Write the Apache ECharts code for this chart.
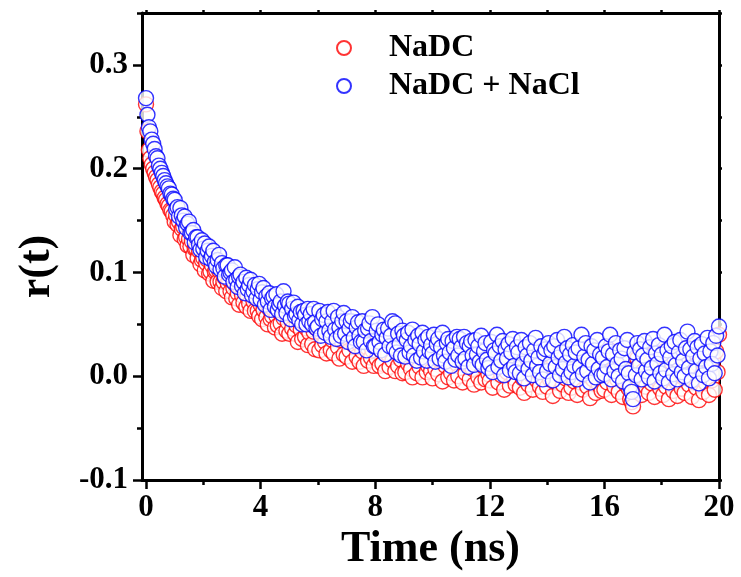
<!DOCTYPE html>
<html>
<head>
<meta charset="utf-8">
<script src="https://cdn.jsdelivr.net/npm/echarts@6/dist/echarts.min.js"></script>
<style>html,body{margin:0;padding:0;background:#fff;}#chart{width:741px;height:577px;}</style>
</head>
<body>
<div id="chart"></div>
<script>
// Sampling grid of the measurement (ns)
const TIME_STEP = 0.05;
const SERIES_NAMES = ['NaDC', 'NaDC + NaCl'];
// r(t) values for NaDC, one line per ns (20 samples each), last value at t = 20 ns
const NADC = [
0.262,0.236,0.218,0.210,0.204,0.200,0.196,0.192,0.189,0.185,0.182,0.178,0.176,0.172,0.170,0.166,0.164,0.160,0.159,0.155,
0.149,0.155,0.146,0.149,0.136,0.142,0.144,0.132,0.134,0.126,0.132,0.125,0.130,0.117,0.123,0.123,0.114,0.121,0.108,0.112,
0.114,0.102,0.109,0.112,0.099,0.101,0.107,0.092,0.101,0.102,0.091,0.102,0.091,0.085,0.091,0.095,0.082,0.090,0.093,0.082,
0.076,0.085,0.089,0.075,0.080,0.069,0.083,0.078,0.071,0.083,0.067,0.076,0.070,0.063,0.077,0.072,0.063,0.077,0.063,0.058,
0.069,0.055,0.064,0.070,0.057,0.050,0.065,0.055,0.058,0.064,0.047,0.058,0.049,0.062,0.051,0.041,0.056,0.061,0.044,0.052,
0.041,0.055,0.046,0.058,0.041,0.049,0.033,0.052,0.045,0.036,0.052,0.038,0.046,0.030,0.042,0.049,0.031,0.043,0.026,0.046,
0.047,0.025,0.042,0.030,0.049,0.033,0.022,0.041,0.045,0.025,0.035,0.022,0.040,0.046,0.028,0.017,0.035,0.041,0.021,0.036,
0.019,0.037,0.025,0.043,0.014,0.030,0.038,0.019,0.032,0.014,0.038,0.024,0.010,0.034,0.028,0.015,0.039,0.018,0.025,0.010,
0.033,0.017,0.037,0.010,0.025,0.012,0.034,0.005,0.026,0.021,0.009,0.028,0.015,0.033,0.005,0.024,0.010,0.030,0.016,0.003,
0.023,0.004,0.028,0.012,0.032,0.007,-0.001,0.023,0.017,0.003,0.029,0.009,0.023,-0.001,0.018,0.026,0.004,0.010,0.030,0.005,
-0.002,0.021,0.007,0.027,0.002,0.015,0.024,-0.005,0.018,0.010,0.029,-0.001,0.015,0.003,0.024,-0.004,0.018,0.012,0.000,0.021,
0.015,-0.006,0.022,0.003,0.012,0.027,-0.003,0.018,0.007,-0.008,0.019,0.012,-0.001,0.023,-0.006,0.014,0.009,-0.003,0.021,0.002,
-0.004,0.020,-0.011,0.013,0.009,0.026,-0.006,0.015,0.001,0.022,-0.013,0.012,0.004,0.019,-0.009,0.007,0.024,-0.002,-0.008,0.017,
0.012,-0.011,0.021,-0.002,-0.016,0.014,0.006,-0.008,0.018,0.001,-0.013,0.013,0.023,-0.004,0.004,-0.010,0.015,-0.015,0.009,0.011,
-0.010,0.017,-0.003,0.010,-0.019,0.014,-0.006,0.020,0.003,-0.014,0.008,-0.008,0.023,-0.002,0.012,-0.016,0.006,-0.011,0.015,-0.005,
0.008,-0.018,0.012,-0.006,0.025,-0.013,0.004,0.017,-0.010,0.001,-0.021,0.014,-0.003,0.010,-0.016,0.020,-0.008,0.006,-0.014,0.003,
-0.013,0.014,-0.006,0.009,0.025,-0.018,0.006,-0.010,0.017,-0.003,-0.015,0.010,0.002,-0.020,0.012,-0.008,0.020,-0.012,-0.022,-0.025,
-0.029,0.007,-0.014,0.017,-0.005,0.011,-0.018,0.005,0.019,-0.010,0.001,-0.016,0.013,-0.007,0.021,-0.020,0.007,-0.003,0.015,-0.012,
0.005,-0.018,0.024,-0.010,0.009,-0.022,0.002,0.013,-0.014,0.017,-0.005,-0.019,0.007,0.019,-0.012,-0.001,-0.016,0.011,0.027,-0.008,
0.010,-0.020,0.003,0.018,-0.011,0.012,-0.023,0.001,0.015,-0.015,0.006,-0.007,0.021,-0.018,0.008,-0.004,0.016,-0.013,0.024,0.004,
0.040
];
// r(t) values for NaDC + NaCl
const NADC_NACL = [
0.268,0.252,0.240,0.236,0.228,0.224,0.219,0.212,0.210,0.203,0.200,0.196,0.193,0.189,0.186,0.183,0.181,0.176,0.175,0.171,
0.170,0.161,0.163,0.154,0.162,0.155,0.150,0.154,0.143,0.147,0.149,0.138,0.138,0.141,0.129,0.134,0.134,0.127,0.122,0.131,
0.123,0.128,0.115,0.121,0.125,0.113,0.116,0.121,0.110,0.106,0.112,0.117,0.103,0.109,0.104,0.096,0.107,0.107,0.098,0.100,
0.102,0.091,0.105,0.093,0.086,0.096,0.098,0.087,0.091,0.080,0.095,0.084,0.088,0.093,0.078,0.082,0.088,0.075,0.084,0.089,
0.074,0.081,0.085,0.069,0.077,0.072,0.080,0.064,0.075,0.077,0.067,0.079,0.064,0.069,0.072,0.060,0.082,0.068,0.061,0.072,
0.070,0.055,0.065,0.071,0.058,0.060,0.067,0.054,0.062,0.050,0.063,0.059,0.050,0.065,0.053,0.060,0.050,0.065,0.052,0.046,
0.048,0.063,0.039,0.055,0.059,0.042,0.053,0.062,0.044,0.038,0.053,0.063,0.045,0.036,0.057,0.047,0.039,0.053,0.061,0.041,
0.053,0.033,0.046,0.053,0.057,0.037,0.029,0.047,0.052,0.039,0.033,0.053,0.033,0.044,0.025,0.046,0.051,0.034,0.057,0.029,
0.029,0.044,0.050,0.033,0.025,0.040,0.045,0.021,0.037,0.046,0.029,0.039,0.053,0.027,0.051,0.023,0.041,0.031,0.020,0.044,
0.039,0.019,0.035,0.042,0.023,0.029,0.045,0.020,0.035,0.015,0.039,0.031,0.018,0.042,0.024,0.035,0.015,0.038,0.024,0.030,
0.022,0.040,0.014,0.031,0.036,0.017,0.028,0.042,0.020,0.014,0.032,0.036,0.023,0.010,0.034,0.027,0.016,0.038,0.020,0.036,
0.028,0.014,0.038,0.017,0.032,0.009,0.029,0.034,0.020,0.011,0.035,0.021,0.029,0.014,0.039,0.011,0.024,0.032,0.016,0.008,
0.012,0.033,0.004,0.025,0.022,0.040,0.009,0.029,0.015,0.034,0.001,0.026,0.017,0.031,0.006,0.023,0.036,0.010,0.004,0.028,
0.023,0.003,0.035,0.012,-0.002,0.028,0.020,0.007,0.032,0.015,0.001,0.025,0.037,0.010,0.018,0.004,0.029,-0.003,0.022,0.026,
0.005,0.032,0.012,0.025,-0.004,0.029,0.009,0.035,0.018,0.001,0.023,0.007,0.038,0.013,0.027,-0.001,0.021,0.004,0.030,0.010,
0.023,-0.003,0.027,0.009,0.040,0.002,0.019,0.032,0.005,0.016,-0.006,0.029,0.012,0.025,-0.001,0.035,0.007,0.021,0.001,0.018,
0.002,0.029,0.009,0.024,0.040,-0.003,0.021,0.005,0.032,0.012,0.000,0.025,0.017,-0.005,0.027,0.007,0.035,0.003,-0.010,-0.015,
-0.022,0.023,0.001,0.032,0.010,0.026,-0.003,0.020,0.034,0.005,0.016,-0.001,0.028,0.008,0.036,-0.005,0.022,0.012,0.030,0.003,
0.021,-0.002,0.040,0.006,0.025,-0.006,0.018,0.029,0.002,0.033,0.011,-0.003,0.023,0.035,0.004,0.015,0.000,0.027,0.043,0.008,
0.026,-0.004,0.019,0.034,0.005,0.028,-0.007,0.017,0.031,0.001,0.022,0.009,0.037,-0.002,0.024,0.012,0.032,0.003,0.039,0.020,
0.048
];
const X_MAJOR = [0, 4, 8, 12, 16, 20];
const X_MINOR = [2, 6, 10, 14, 18];
const Y_MAJOR = [-0.1, 0.0, 0.1, 0.2, 0.3];
const Y_MINOR = [-0.05, 0.05, 0.15, 0.25, 0.35];
const X_MIN = -0.14, X_MAX = 20;
const Y_MIN = -0.1, Y_MAX = 0.35;

const FONT = '"Liberation Serif", "Times New Roman", serif';
const toPairs = vals => vals.map((v, i) => [+(i * TIME_STEP).toFixed(2), v]);

const axisLineStyle = { color: '#000', width: 3 };
function xAx(pos, ticks, len, showLine, labels) {
  return {
    type: 'value', min: X_MIN, max: X_MAX, position: pos,
    axisLine: { show: showLine, onZero: false, lineStyle: axisLineStyle },
    axisTick: { show: true, customValues: ticks, length: len, inside: false, lineStyle: { color: '#000', width: 2.5 } },
    axisLabel: labels ? {
      show: true, customValues: ticks, margin: 12, color: '#000',
      fontFamily: FONT, fontWeight: 'bold', fontSize: 31,
      formatter: v => String(Math.round(v))
    } : { show: false },
    splitLine: { show: false }
  };
}
function yAx(pos, ticks, len, showLine, labels) {
  return {
    type: 'value', min: Y_MIN, max: Y_MAX, position: pos,
    axisLine: { show: showLine, onZero: false, lineStyle: axisLineStyle },
    axisTick: { show: true, customValues: ticks, length: len, inside: false, lineStyle: { color: '#000', width: 2.5 } },
    axisLabel: labels ? {
      show: true, customValues: ticks, margin: 14, color: '#000',
      fontFamily: FONT, fontWeight: 'bold', fontSize: 31,
      formatter: v => v.toFixed(1)
    } : { show: false },
    splitLine: { show: false }
  };
}

const xAxes = [
  xAx('bottom', X_MAJOR, 9, true, true),
  xAx('bottom', X_MINOR, 5, false, false),
  xAx('top', X_MAJOR.concat(X_MINOR), 3, true, false)
];
xAxes[0].name = 'Time (ns)';
xAxes[0].nameLocation = 'middle';
xAxes[0].nameGap = 46;
xAxes[0].nameTextStyle = { fontFamily: FONT, fontWeight: 'bold', fontSize: 44, color: '#000' };

const yAxes = [
  yAx('left', Y_MAJOR, 9, true, true),
  yAx('left', Y_MINOR, 5, false, false),
  yAx('right', Y_MAJOR.concat(Y_MINOR), 3, true, false)
];
yAxes[0].name = 'r(t)';
yAxes[0].nameLocation = 'middle';
yAxes[0].nameGap = 82;
yAxes[0].nameTextStyle = { fontFamily: FONT, fontWeight: 'bold', fontSize: 44, color: '#000', padding: [0, 40, 0, 0] };

const chart = echarts.init(document.getElementById('chart'), null, { renderer: 'canvas' });
chart.setOption({
  animation: false,
  backgroundColor: '#fff',
  grid: { left: 142, right: 22, top: 13, bottom: 96, containLabel: false },
  xAxis: xAxes,
  yAxis: yAxes,
  legend: {
    data: SERIES_NAMES,
    orient: 'vertical',
    left: 331, top: 26,
    itemWidth: 14, itemHeight: 14, itemGap: 4,
    textStyle: { fontFamily: FONT, fontWeight: 'bold', fontSize: 32, lineHeight: 34, color: '#000', padding: [0, 0, 0, 33] }
  },
  series: [
    {
      name: SERIES_NAMES[0], type: 'scatter', symbol: 'circle', symbolSize: 15,
      itemStyle: { color: '#fff', borderColor: '#ff0000', borderWidth: 1.4 },
      data: toPairs(NADC)
    },
    {
      name: SERIES_NAMES[1], type: 'scatter', symbol: 'circle', symbolSize: 15,
      itemStyle: { color: '#fff', borderColor: '#0000ff', borderWidth: 1.4 },
      data: toPairs(NADC_NACL)
    }
  ]
});
</script>
</body>
</html>
